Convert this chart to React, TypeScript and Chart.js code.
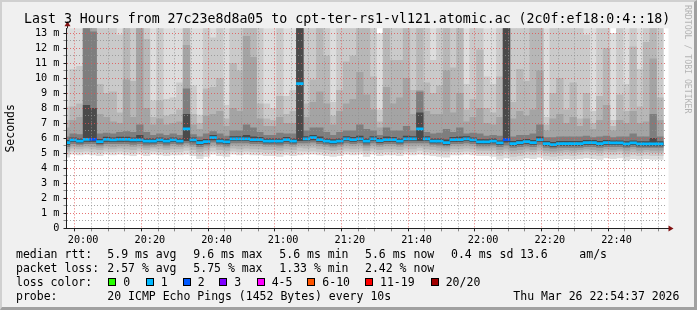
import React, { useEffect, useRef } from "react";
import { Chart, registerables } from "chart.js";

Chart.register(...registerables);

// centre of each 2-minute column, in minutes after 20:00
const MINUTES = [
  -5, -3, -1, 1, 3, 5, 7, 9, 11, 13, 15, 17, 19, 21, 23, 25, 27, 29, 31, 33,
  35, 37, 39, 41, 43, 45, 47, 49, 51, 53, 55, 57, 59, 61, 63, 65, 67, 69, 71, 73,
  75, 77, 79, 81, 83, 85, 87, 89, 91, 93, 95, 97, 99, 101, 103, 105, 107, 109, 111, 113,
  115, 117, 119, 121, 123, 125, 127, 129, 131, 133, 135, 137, 139, 141, 143, 145, 147, 149, 151, 153,
  155, 157, 159, 161, 163, 165, 167, 169, 171, 173,
];

// y-axis tick values (ms): grid every 0.5, labels on whole numbers
const Y_TICKS = [
  0, 0.5, 1, 1.5, 2, 2.5, 3, 3.5, 4, 4.5, 5, 5.5, 6, 6.5, 7, 7.5, 8, 8.5, 9, 9.5,
  10, 10.5, 11, 11.5, 12, 12.5, 13,
];

// median rtt (ms)
const MEDIAN = [
  5.71, 5.89, 5.82, 5.93, 5.93, 5.78, 5.93, 5.89, 5.93, 5.93,
  5.89, 5.89, 5.82, 5.82, 5.89, 5.82, 5.89, 5.82, 6.63, 5.89,
  5.71, 5.78, 6.05, 5.82, 5.76, 5.96, 5.96, 5.96, 5.92, 5.92,
  5.82, 5.82, 5.82, 5.92, 5.82, 9.65, 5.96, 6.05, 5.92, 5.82,
  5.76, 5.82, 5.96, 5.92, 5.96, 5.82, 5.96, 5.85, 5.92, 5.92,
  5.82, 5.96, 5.96, 6.63, 5.96, 5.82, 5.82, 5.71, 5.92, 5.92,
  5.96, 5.89, 5.76, 5.76, 5.82, 5.69, 5.92, 5.65, 5.71, 5.78,
  5.71, 5.92, 5.65, 5.58, 5.65, 5.65, 5.65, 5.65, 5.71, 5.71,
  5.65, 5.71, 5.69, 5.69, 5.63, 5.69, 5.63, 5.63, 5.63, 5.63,
];

// lost pings per column (of 20)
const LOSS = [
  1, 1, 1, 1, 2, 1, 1, 1, 1, 1,
  1, 1, 1, 1, 1, 1, 1, 1, 1, 1,
  1, 1, 1, 1, 1, 1, 1, 1, 1, 1,
  1, 1, 1, 1, 1, 1, 1, 1, 1, 1,
  1, 1, 1, 1, 1, 1, 1, 1, 1, 1,
  1, 1, 1, 1, 1, 1, 1, 1, 1, 1,
  1, 1, 1, 1, 1, 1, 2, 1, 1, 1,
  1, 1, 1, 1, 1, 1, 1, 1, 1, 1,
  1, 1, 1, 1, 1, 1, 1, 1, 1, 1,
];

// smoke bands: upper edges (ms), outermost first
const HI1 = [
  14, 14, 14, 14, 14, 14, 14, 14, 14, 14,
  14, 14, 14, 14, 14, 14, 14, 14, 14, 14,
  14, 14, 14, 14, 14, 14, 14, 14, 14, 14,
  14, 14, 14, 14, 14, 14, 14, 14, 14, 14,
  14, 14, 14, 14, 14, 14, 14, 13.0, 14, 14,
  14, 14, 14, 14, 14, 14, 14, 14, 14, 14,
  14, 14, 14, 14, 14, 14, 14, 14, 14, 14,
  14, 14, 14, 14, 14, 14, 14, 14, 14, 14,
  14, 14, 13.0, 14, 14, 14, 14, 14, 14, 14,
];
const HI2 = [
  8.1, 10.6, 10.8, 14, 14, 14, 14, 14, 12.9, 14,
  14, 14, 14, 8.5, 14, 8.6, 8.7, 9.7, 14, 9.5,
  7.55, 14, 12.7, 14, 8.2, 14, 14, 14, 14, 14,
  8.3, 8.0, 14, 8.8, 9.2, 14, 14, 14, 14, 14,
  8.4, 14, 14, 14, 14, 14, 14, 7.9, 14, 14,
  14, 14, 14, 14, 14, 11.2, 14, 14, 14, 14,
  9.6, 14, 14, 10.1, 9.6, 14, 14, 14, 14, 14,
  14, 14, 7.4, 14, 14, 14, 14, 14, 12.9, 7.8,
  14, 14, 7.2, 14, 9.6, 14, 10.6, 14, 14, 14,
];
const HI3 = [
  7.2, 8.1, 8.3, 14, 14, 9.6, 9.0, 9.1, 7.7, 14,
  9.8, 14, 12.6, 7.4, 8.5, 7.5, 7.6, 7.9, 14, 7.6,
  7.0, 9.3, 9.4, 10.0, 7.3, 11.0, 10.5, 14, 14, 8.3,
  7.3, 7.2, 8.8, 7.6, 7.8, 14, 8.3, 9.9, 14, 11.5,
  7.5, 9.2, 11.1, 11.5, 14, 14, 10.1, 7.1, 14, 11.2,
  11.2, 14, 9.2, 14, 9.7, 9.0, 9.5, 14, 10.7, 14,
  7.9, 8.6, 11.9, 8.0, 7.7, 10.1, 14, 8.4, 10.6, 9.8,
  14, 14, 6.9, 9.0, 10.0, 7.9, 9.7, 7.3, 9.0, 7.0,
  8.8, 12.0, 6.8, 8.9, 7.8, 12.1, 8.1, 12.4, 14, 8.7,
];
const HI4 = [
  6.7, 7.2, 7.4, 14, 14, 7.6, 7.4, 7.1, 7.0, 9.9,
  7.4, 14, 8.0, 6.9, 7.3, 6.9, 7.0, 7.1, 12.2, 6.9,
  6.6, 7.5, 7.6, 7.8, 6.8, 8.0, 7.8, 12.8, 11.4, 7.3,
  6.8, 6.8, 7.4, 7.0, 7.0, 14, 7.4, 8.4, 9.1, 8.3,
  6.9, 7.8, 8.3, 8.6, 10.4, 8.9, 7.9, 6.7, 9.4, 8.3,
  8.7, 10.0, 7.6, 9.2, 7.8, 7.6, 7.6, 10.5, 7.7, 9.0,
  7.1, 7.4, 8.0, 7.0, 6.9, 7.4, 14, 7.3, 7.8, 7.5,
  7.9, 10.5, 6.5, 7.3, 7.6, 7.0, 7.4, 6.8, 7.3, 6.6,
  7.2, 8.2, 6.5, 7.2, 7.0, 7.8, 7.0, 7.1, 11.3, 7.2,
];
const HI5 = [
  6.1, 6.3, 6.25, 14, 13.1, 6.3, 6.35, 6.3, 6.4, 6.45,
  6.4, 6.9, 6.4, 6.2, 6.3, 6.2, 6.3, 6.2, 9.3, 6.25,
  6.1, 6.3, 6.45, 6.3, 6.15, 6.5, 6.5, 6.9, 6.7, 6.4,
  6.2, 6.2, 6.35, 6.3, 6.3, 14, 6.5, 6.7, 6.7, 6.4,
  6.2, 6.4, 6.5, 6.5, 6.9, 6.6, 6.5, 6.2, 6.7, 6.5,
  6.5, 6.8, 6.5, 9.1, 6.4, 6.3, 6.35, 6.6, 6.4, 6.7,
  6.3, 6.35, 6.3, 6.15, 6.2, 6.15, 14, 6.1, 6.2, 6.2,
  6.3, 6.9, 6.05, 6.05, 6.1, 6.1, 6.1, 6.1, 6.15, 6.05,
  6.1, 6.15, 6.05, 6.1, 6.1, 6.3, 6.1, 6.1, 7.6, 6.1,
];
const HI6 = [
  5.86, 6.04, 5.97, 8.2, 8.0, 5.93, 6.08, 6.04, 6.08, 6.08,
  6.04, 6.2, 5.97, 5.97, 6.04, 5.97, 6.04, 5.97, 7.6, 6.04,
  5.86, 5.93, 6.2, 5.97, 5.91, 6.11, 6.11, 6.2, 6.1, 6.07,
  5.97, 5.97, 5.97, 6.07, 5.97, 14, 6.11, 6.2, 6.1, 5.97,
  5.91, 5.97, 6.11, 6.07, 6.15, 5.97, 6.11, 6.0, 6.1, 6.07,
  5.97, 6.15, 6.11, 7.7, 6.11, 5.97, 5.97, 5.9, 6.07, 6.1,
  6.11, 6.04, 5.91, 5.91, 5.97, 5.84, 14, 5.8, 5.86, 5.93,
  5.86, 6.1, 5.8, 5.73, 5.8, 5.8, 5.8, 5.8, 5.86, 5.86,
  5.8, 5.86, 5.84, 5.84, 5.78, 5.84, 5.78, 5.78, 6.0, 5.78,
];

// smoke bands: lower edges (ms), outermost first
const LO1 = [
  4.75, 4.95, 4.9, 4.95, 4.9, 4.85, 4.95, 4.9, 4.95, 4.9,
  4.85, 4.95, 4.85, 4.95, 4.9, 4.85, 4.9, 4.9, 4.95, 4.85,
  4.65, 4.8, 4.95, 4.85, 4.8, 4.95, 4.9, 4.95, 4.9, 4.9,
  4.85, 4.85, 4.8, 4.9, 4.85, 4.9, 4.95, 4.95, 4.9, 4.85,
  4.8, 4.85, 4.95, 4.9, 4.95, 4.8, 4.95, 4.85, 4.9, 4.9,
  4.85, 4.95, 4.9, 4.95, 4.9, 4.85, 4.8, 4.75, 4.9, 4.9,
  4.95, 4.9, 4.85, 4.85, 4.8, 4.6, 4.7, 4.55, 4.6, 4.7,
  4.65, 4.75, 4.6, 4.55, 4.6, 4.65, 4.6, 4.65, 4.7, 4.65,
  4.6, 4.7, 4.65, 4.7, 4.55, 4.65, 4.6, 4.65, 4.6, 4.6,
];
const LO2 = [
  4.95, 5.15, 5.1, 5.15, 5.1, 5.05, 5.15, 5.1, 5.15, 5.1,
  5.05, 5.15, 5.05, 5.15, 5.1, 5.05, 5.1, 5.1, 5.2, 5.05,
  4.85, 5.0, 5.15, 5.05, 5.0, 5.15, 5.1, 5.15, 5.1, 5.1,
  5.05, 5.05, 5.0, 5.1, 5.05, 5.15, 5.15, 5.15, 5.1, 5.05,
  5.0, 5.05, 5.15, 5.1, 5.15, 5.0, 5.15, 5.05, 5.1, 5.1,
  5.05, 5.15, 5.1, 5.2, 5.1, 5.05, 5.0, 4.95, 5.1, 5.1,
  5.15, 5.1, 5.0, 5.0, 5.0, 4.85, 4.95, 4.8, 4.85, 4.95,
  4.9, 5.0, 4.85, 4.8, 4.85, 4.9, 4.85, 4.9, 4.95, 4.9,
  4.85, 4.95, 4.9, 4.95, 4.8, 4.9, 4.85, 4.9, 4.85, 4.85,
];
const LO3 = [
  5.15, 5.35, 5.3, 5.35, 5.3, 5.25, 5.35, 5.3, 5.35, 5.3,
  5.25, 5.35, 5.25, 5.35, 5.3, 5.25, 5.3, 5.3, 5.4, 5.25,
  5.1, 5.2, 5.4, 5.25, 5.2, 5.35, 5.3, 5.35, 5.3, 5.3,
  5.25, 5.25, 5.2, 5.3, 5.25, 5.4, 5.35, 5.4, 5.3, 5.25,
  5.2, 5.25, 5.35, 5.3, 5.35, 5.2, 5.35, 5.25, 5.3, 5.3,
  5.25, 5.35, 5.3, 5.4, 5.3, 5.25, 5.2, 5.15, 5.3, 5.3,
  5.35, 5.3, 5.2, 5.2, 5.2, 5.05, 5.15, 5.0, 5.05, 5.15,
  5.1, 5.2, 5.05, 5.0, 5.05, 5.1, 5.05, 5.1, 5.15, 5.1,
  5.05, 5.15, 5.1, 5.15, 5.0, 5.1, 5.05, 5.1, 5.05, 5.05,
];
const LO4 = [
  5.3, 5.5, 5.45, 5.5, 5.45, 5.4, 5.5, 5.45, 5.5, 5.5,
  5.45, 5.5, 5.4, 5.45, 5.5, 5.4, 5.5, 5.45, 5.55, 5.45,
  5.3, 5.4, 5.55, 5.45, 5.4, 5.55, 5.5, 5.55, 5.5, 5.5,
  5.45, 5.45, 5.4, 5.5, 5.45, 5.55, 5.55, 5.6, 5.5, 5.45,
  5.4, 5.45, 5.55, 5.5, 5.55, 5.4, 5.55, 5.45, 5.5, 5.5,
  5.45, 5.55, 5.5, 5.55, 5.5, 5.45, 5.4, 5.35, 5.5, 5.5,
  5.55, 5.5, 5.35, 5.35, 5.4, 5.25, 5.35, 5.2, 5.25, 5.35,
  5.25, 5.4, 5.2, 5.15, 5.2, 5.25, 5.2, 5.25, 5.3, 5.25,
  5.2, 5.3, 5.25, 5.3, 5.2, 5.3, 5.2, 5.25, 5.2, 5.2,
];
const LO5 = [
  5.45, 5.65, 5.6, 5.65, 5.65, 5.55, 5.65, 5.65, 5.65, 5.65,
  5.6, 5.65, 5.55, 5.6, 5.65, 5.55, 5.65, 5.6, 5.7, 5.6,
  5.45, 5.55, 5.75, 5.6, 5.5, 5.7, 5.7, 5.7, 5.65, 5.65,
  5.6, 5.6, 5.55, 5.65, 5.6, 5.7, 5.7, 5.75, 5.65, 5.6,
  5.5, 5.6, 5.7, 5.65, 5.7, 5.55, 5.7, 5.6, 5.65, 5.65,
  5.6, 5.7, 5.7, 5.7, 5.7, 5.6, 5.55, 5.5, 5.65, 5.65,
  5.7, 5.65, 5.5, 5.5, 5.55, 5.45, 5.55, 5.4, 5.45, 5.5,
  5.45, 5.6, 5.4, 5.35, 5.4, 5.4, 5.4, 5.4, 5.45, 5.45,
  5.4, 5.45, 5.45, 5.45, 5.4, 5.45, 5.4, 5.4, 5.4, 5.4,
];
const LO6 = [
  5.6, 5.78, 5.7, 5.8, 5.8, 5.66, 5.8, 5.78, 5.8, 5.8,
  5.76, 5.78, 5.7, 5.7, 5.78, 5.7, 5.78, 5.7, 5.85, 5.76,
  5.6, 5.66, 5.9, 5.7, 5.64, 5.84, 5.84, 5.84, 5.8, 5.8,
  5.7, 5.7, 5.7, 5.8, 5.7, 5.85, 5.84, 5.9, 5.8, 5.7,
  5.64, 5.7, 5.84, 5.8, 5.84, 5.7, 5.84, 5.72, 5.8, 5.8,
  5.7, 5.84, 5.84, 5.85, 5.84, 5.7, 5.7, 5.6, 5.8, 5.8,
  5.84, 5.78, 5.64, 5.64, 5.7, 5.57, 5.75, 5.53, 5.6, 5.66,
  5.6, 5.8, 5.53, 5.46, 5.53, 5.53, 5.53, 5.53, 5.6, 5.6,
  5.53, 5.6, 5.57, 5.57, 5.5, 5.57, 5.5, 5.5, 5.5, 5.5,
];

const BAND_COLORS = ["#dddddd", "#cacaca", "#b7b7b7", "#a4a4a4", "#7e7e7e", "#4a4a4a"];

const LOSS_LABELS = ["0", "1", "2", "3", "4-5", "6-10", "11-19", "20/20"];
const LOSS_SWATCHES = ["#26ff00", "#00b8ff", "#0059ff", "#7e00ff", "#ff00ff", "#ff5500", "#ff0000", "#a00000"];
const lossColor = (n: number) => {
  if (n <= 3) return LOSS_SWATCHES[n];
  if (n <= 5) return LOSS_SWATCHES[4];
  if (n <= 10) return LOSS_SWATCHES[5];
  if (n <= 19) return LOSS_SWATCHES[6];
  return LOSS_SWATCHES[7];
};

const TITLE = "Last 3 Hours from 27c23e8d8a05 to cpt-ter-rs1-vl121.atomic.ac (2c0f:ef18:0:4::18)";
const RTT_STATS = ["5.9 ms avg", "9.6 ms max", "5.6 ms min", "5.6 ms now", "0.4 ms sd", "13.6", "am/s"];
const LOSS_STATS = ["2.57 % avg", "5.75 % max", "1.33 % min", "2.42 % now"];
const PROBE = "20 ICMP Echo Pings (1452 Bytes) every 10s";
const STAMP = "Thu Mar 26 22:54:37 2026";

// layout (pixels)
const STAT_X = [107.3, 193.3, 279.3, 365, 451, 520, 579.3];
const SWATCH_X = [108.3, 145.7, 182.7, 219.3, 256.7, 307.3, 365, 430.7];
const ROW_TOP = [247.3, 261.3, 275, 289];

const MONO = "'DejaVu Sans Mono', monospace";
const GRID_MINOR = "rgba(144,144,144,0.8)";
const GRID_MAJOR = "rgba(224,80,80,0.8)";

const fmtTime = (m: number) => {
  const t = 20 * 60 + m;
  const h = Math.floor(t / 60);
  const mm = t % 60;
  return `${h}:${mm < 10 ? "0" : ""}${mm}`;
};

const frame = {
  id: "frame",
  beforeDraw(chart: any) {
    const { ctx, chartArea: a } = chart;
    ctx.save();
    ctx.fillStyle = "#ffffff";
    ctx.fillRect(a.left, a.top, a.right - a.left + 2, a.bottom - a.top);
    ctx.restore();
  },
  afterDraw(chart: any) {
    const { ctx, chartArea: a } = chart;
    ctx.save();
    ctx.strokeStyle = "#202020";
    ctx.lineWidth = 1;
    ctx.beginPath();
    ctx.moveTo(a.right, Math.round(a.bottom) + 0.5);
    ctx.lineTo(a.right + 3, Math.round(a.bottom) + 0.5);
    ctx.moveTo(Math.round(a.left) + 0.5, a.top);
    ctx.lineTo(Math.round(a.left) + 0.5, a.top - 3);
    ctx.stroke();
    ctx.fillStyle = "#801010";
    const by = Math.round(a.bottom) + 0.5;
    ctx.beginPath();
    ctx.moveTo(a.right + 2, by - 3);
    ctx.lineTo(a.right + 7, by);
    ctx.lineTo(a.right + 2, by + 3);
    ctx.closePath();
    ctx.fill();
    const lx = Math.round(a.left) + 0.5;
    ctx.beginPath();
    ctx.moveTo(lx - 3, a.top - 2);
    ctx.lineTo(lx, a.top - 7);
    ctx.lineTo(lx + 3, a.top - 2);
    ctx.closePath();
    ctx.fill();
    ctx.restore();
  },
};

export default function App() {
  const ref = useRef<HTMLCanvasElement>(null);

  useEffect(() => {
    const canvas = ref.current;
    if (!canvas) return;
    const bands = [
      [LO1, HI1],
      [LO2, HI2],
      [LO3, HI3],
      [LO4, HI4],
      [LO5, HI5],
      [LO6, HI6],
    ];
    const datasets: any[] = bands.map(([lo, hi], b) => ({
      data: MINUTES.map((m, i) => ({ x: m, y: [lo[i], hi[i]] })),
      backgroundColor: BAND_COLORS[b],
      borderWidth: 0,
      grouped: false,
      categoryPercentage: 1,
      barPercentage: 1,
      order: 10 - b,
    }));
    datasets.push({
      data: MINUTES.map((m, i) => ({ x: m, y: [MEDIAN[i] - 0.07, MEDIAN[i] + 0.07] })),
      backgroundColor: LOSS.map(lossColor),
      borderWidth: 0,
      grouped: false,
      categoryPercentage: 1,
      barPercentage: 1,
      order: 0,
    });

    const chart = new Chart(canvas, {
      type: "bar",
      data: { datasets },
      plugins: [frame],
      options: {
        animation: false,
        responsive: false,
        events: [],
        layout: { padding: { left: 0, right: 30.5, top: 28.33, bottom: 61.67 } },
        plugins: { legend: { display: false }, tooltip: { enabled: false }, title: { display: false } },
        scales: {
          x: {
            type: "linear",
            min: -5,
            max: 175,
            offset: false,
            afterFit: (s: any) => {
              s.height = 20;
            },
            ticks: {
              stepSize: 5,
              autoSkip: false,
              maxRotation: 0,
              minRotation: 0,
              padding: 3,
              color: "#000",
              z: 2,
              font: { family: MONO, size: 10.2 },
              callback: (v: any) => (v % 20 === 0 && v >= 0 && v <= 160 ? fmtTime(v) : ""),
            },
            grid: {
              z: 1,
              lineWidth: 1,
              tickLength: 3,
              color: (c: any) => {
                const v = c.tick?.value;
                if (v === undefined || v <= -5) return "rgba(0,0,0,0)";
                return v % 20 === 0 ? GRID_MAJOR : GRID_MINOR;
              },
              tickColor: (c: any) => {
                const v = c.tick?.value;
                if (v === undefined || v <= -5) return "rgba(0,0,0,0)";
                return v % 20 === 0 ? "#202020" : "rgba(32,32,32,0.5)";
              },
            },
            border: { display: true, color: "#202020", width: 1, dash: [1, 2], z: 2 },
          },
          y: {
            type: "linear",
            min: 0,
            max: 13.333,
            afterFit: (s: any) => {
              s.width = 66.5;
            },
            afterBuildTicks: (s: any) => {
              s.ticks = Y_TICKS.map((v) => ({ value: v }));
            },
            title: {
              display: true,
              text: "Seconds",
              color: "#000",
              font: { family: MONO, size: 11.5 },
              padding: { top: 4, bottom: 0 },
            },
            ticks: {
              autoSkip: false,
              padding: 4,
              color: "#000",
              z: 2,
              font: { family: MONO, size: 10.2 },
              callback: (v: any) => (v === 0 ? "0" : Number.isInteger(v) ? `${v} m` : ""),
            },
            grid: {
              z: 1,
              lineWidth: 1,
              tickLength: 3,
              color: (c: any) => {
                const v = c.tick?.value;
                if (v === undefined || v <= 0) return "rgba(0,0,0,0)";
                return Number.isInteger(v) ? GRID_MAJOR : GRID_MINOR;
              },
              tickColor: (c: any) => {
                const v = c.tick?.value;
                if (v === undefined) return "rgba(0,0,0,0)";
                return Number.isInteger(v) ? "#202020" : "rgba(32,32,32,0.5)";
              },
            },
            border: { display: true, color: "#202020", width: 1, dash: [1, 2], z: 2 },
          },
        },
      } as any,
    });
    return () => chart.destroy();
  }, []);

  const text = (x: number, y: number, s: string, key?: string) => (
    <div
      key={key}
      style={{
        position: "absolute",
        left: x,
        top: y,
        fontSize: 11.5,
        lineHeight: "14px",
        whiteSpace: "pre",
      }}
    >
      {s}
    </div>
  );

  return (
    <div
      style={{
        position: "absolute",
        left: 0,
        top: 0,
        width: 697,
        height: 310,
        overflow: "hidden",
        background: "#f0f0f0",
        fontFamily: MONO,
        color: "#000",
      }}
    >
      <div
        style={{
          position: "absolute",
          left: 0,
          top: 0,
          width: 697,
          height: 310,
          boxSizing: "border-box",
          borderTop: "2px solid #d0d0d0",
          borderLeft: "2px solid #d0d0d0",
          borderRight: "3px solid #a0a0a0",
          borderBottom: "3px solid #a0a0a0",
        }}
      />
      <canvas
        ref={ref}
        width={697}
        height={310}
        style={{ position: "absolute", left: 0, top: 0, width: 697, height: 310 }}
      />
      <div
        style={{
          position: "absolute",
          left: 24,
          top: 10.7,
          fontSize: 13.25,
          lineHeight: "16px",
          whiteSpace: "pre",
        }}
      >
        {TITLE}
      </div>
      <div
        style={{
          position: "absolute",
          left: 681,
          top: 5,
          width: 13,
          fontSize: 8.2,
          lineHeight: "13px",
          writingMode: "vertical-rl",
          color: "#b4b4b4",
          whiteSpace: "pre",
        }}
      >
        RRDTOOL / TOBI OETIKER
      </div>

      {text(16, ROW_TOP[0], "median rtt:")}
      {RTT_STATS.map((s, i) => text(STAT_X[i], ROW_TOP[0], s, "r" + i))}

      {text(16, ROW_TOP[1], "packet loss:")}
      {LOSS_STATS.map((s, i) => text(STAT_X[i], ROW_TOP[1], s, "l" + i))}

      {text(16, ROW_TOP[2], "loss color:")}
      {LOSS_LABELS.map((s, i) => (
        <React.Fragment key={"c" + i}>
          <div
            style={{
              position: "absolute",
              left: SWATCH_X[i],
              top: 278.3,
              width: 8,
              height: 8,
              boxSizing: "border-box",
              border: "1px solid #000",
              background: LOSS_SWATCHES[i],
            }}
          />
          {text(SWATCH_X[i] + 15, ROW_TOP[2], s)}
        </React.Fragment>
      ))}

      {text(16, ROW_TOP[3], "probe:")}
      {text(STAT_X[0], ROW_TOP[3], PROBE)}
      {text(513.3, ROW_TOP[3], STAMP)}
    </div>
  );
}
